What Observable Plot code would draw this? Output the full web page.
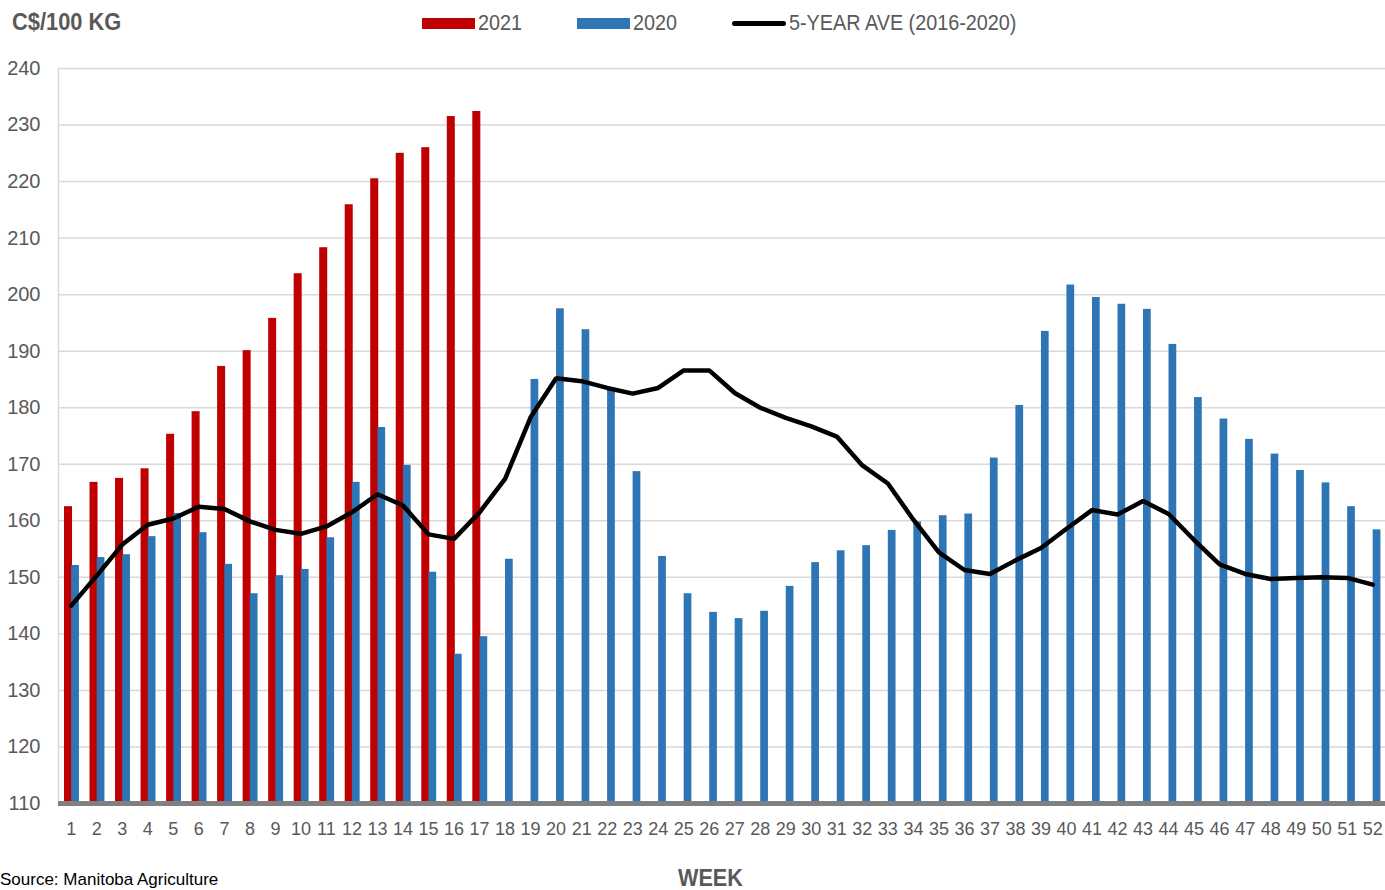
<!DOCTYPE html>
<html>
<head>
<meta charset="utf-8">
<script src="https://cdn.jsdelivr.net/npm/d3@7"></script>
<script src="https://cdn.jsdelivr.net/npm/@observablehq/plot@0.6"></script>
<style>
  html, body { margin: 0; padding: 0; background: #fff; width: 1385px; height: 890px; overflow: hidden; }
  #wrap { position: relative; width: 1385px; height: 890px; }
  .lbl { position: absolute; font-family: "Liberation Sans Narrow", "Arial Narrow", "Liberation Sans", sans-serif; color: #595959; white-space: nowrap; line-height: 1; transform-origin: 0 50%; }
  .sw { position: absolute; }
</style>
</head>
<body>
<div id="wrap"></div>
<script>
const weeks = [1,2,3,4,5,6,7,8,9,10,11,12,13,14,15,16,17,18,19,20,21,22,23,24,25,26,
  27,28,29,30,31,32,33,34,35,36,37,38,39,40,41,42,43,44,45,46,47,48,49,50,51,52];
const yTicks = [110,120,130,140,150,160,170,180,190,200,210,220,230,240];

const price2021 = [162.5,166.8,167.5,169.2,175.3,179.3,187.3,190.1,195.8,203.7,208.3,215.9,220.5,225.0,226.0,231.5,232.4];

const price2020 = [152.1,153.5,154.0,157.2,161.3,157.9,152.3,147.1,150.3,151.4,157.0,166.8,176.5,169.8,150.9,136.4,139.5,
  153.2,185.0,197.5,193.8,183.2,168.7,153.7,147.1,143.8,142.7,144.0,148.4,152.6,154.7,155.6,158.3,159.8,160.9,161.2,
  171.1,180.4,193.5,201.7,199.5,198.3,197.4,191.2,181.8,178.0,174.4,171.8,168.9,166.7,162.5,158.4];

const avg5yr = [145.0,150.3,155.8,159.3,160.4,162.5,162.1,159.9,158.4,157.7,159.0,161.5,164.7,162.7,157.6,156.8,161.5,
  167.4,178.3,185.2,184.7,183.5,182.5,183.5,186.6,186.6,182.6,180.0,178.2,176.7,174.9,169.8,166.6,160.2,154.4,151.3,
  150.6,153.0,155.2,158.6,161.9,161.1,163.5,161.2,156.6,152.3,150.6,149.7,149.9,150.0,149.9,148.7];

const seriesNames = ["2021", "2020", "5-YEAR AVE (2016-2020)"];
const seriesColors = ["#C00000", "#2E75B6", "#000000"];
const yTitle = "C$/100 KG";
const xTitle = "WEEK";
const source = "Source: Manitoba Agriculture";

const d2021 = price2021.map((v, i) => ({week: weeks[i], value: v}));
const d2020 = price2020.map((v, i) => ({week: weeks[i], value: v}));
const dAvg = avg5yr.map((v, i) => ({week: weeks[i], value: v}));

const W = 1385, H = 890;
const mL = 58, mR = 0, mT = 68, mB = 87;
const bw = (W - mL - mR) / weeks.length;
const FONT = '"Liberation Sans Narrow", "Arial Narrow", "Liberation Sans", sans-serif';

const chart = Plot.plot({
  width: W,
  height: H,
  marginLeft: mL,
  marginRight: mR,
  marginTop: mT,
  marginBottom: mB,
  style: { fontFamily: FONT, color: "#595959", background: "transparent", overflow: "visible" },
  x: { type: "band", domain: weeks, padding: 0, round: false, label: null },
  y: { domain: [110, 240], label: null },
  marks: [
    Plot.ruleY(yTicks.slice(1), { stroke: "#d9d9d9", strokeWidth: 1.5 }),
    Plot.ruleX([weeks[0]], { dx: -bw / 2, y1: 110, y2: 240, stroke: "#d9d9d9", strokeWidth: 1.5 }),
    Plot.barY(d2021, { x: "week", y1: 110, y2: "value", fill: seriesColors[0], insetLeft: 6, insetRight: 11.5 }),
    Plot.barY(d2020, { x: "week", y1: 110, y2: "value", fill: seriesColors[1], insetLeft: 13.2, insetRight: 4.6 }),
    Plot.ruleY([110], { stroke: "#808080", strokeWidth: 5 }),
    Plot.lineY(dAvg, { x: "week", y: "value", stroke: seriesColors[2], strokeWidth: 4.5, strokeLinejoin: "miter" }),
    Plot.axisY({ ticks: yTicks, tickSize: 0, tickPadding: 18, fontSize: 20, fill: "#595959", label: null }),
    Plot.axisX({ ticks: weeks, tickSize: 0, tickPadding: 19, fontSize: 18, fill: "#595959", label: null })
  ]
});

const wrap = document.getElementById("wrap");
chart.style.position = "absolute";
chart.style.left = "0px";
chart.style.top = "0px";
wrap.appendChild(chart);

function addLabel(text, left, top, size, bold, color, sx) {
  const el = document.createElement("div");
  el.className = "lbl";
  el.textContent = text;
  el.style.left = left + "px";
  el.style.top = top + "px";
  el.style.fontSize = size + "px";
  if (bold) el.style.fontWeight = "bold";
  if (color) el.style.color = color;
  if (sx) el.style.transform = "scaleX(" + sx + ")";
  wrap.appendChild(el);
  return el;
}
function addSwatch(left, top, w, h, color) {
  const el = document.createElement("div");
  el.className = "sw";
  el.style.left = left + "px"; el.style.top = top + "px";
  el.style.width = w + "px"; el.style.height = h + "px";
  el.style.background = color;
  if (h < 6) el.style.borderRadius = "3px";
  wrap.appendChild(el);
}

addLabel(yTitle, 12, 11, 23, true, null, 0.95);
addSwatch(422, 18, 53, 11, seriesColors[0]);
addLabel(seriesNames[0], 478, 12, 22, false, null, 0.9);
addSwatch(577, 18, 53, 11, seriesColors[1]);
addLabel(seriesNames[1], 633, 12, 22, false, null, 0.9);
addSwatch(732, 21, 54, 5, seriesColors[2]);
addLabel(seriesNames[2], 789, 12, 22, false, null, 0.9);
addLabel(xTitle, 678, 867, 23, true, null, 0.94);
addLabel(source, 0, 871, 17, false, "#000");
</script>
</body>
</html>
